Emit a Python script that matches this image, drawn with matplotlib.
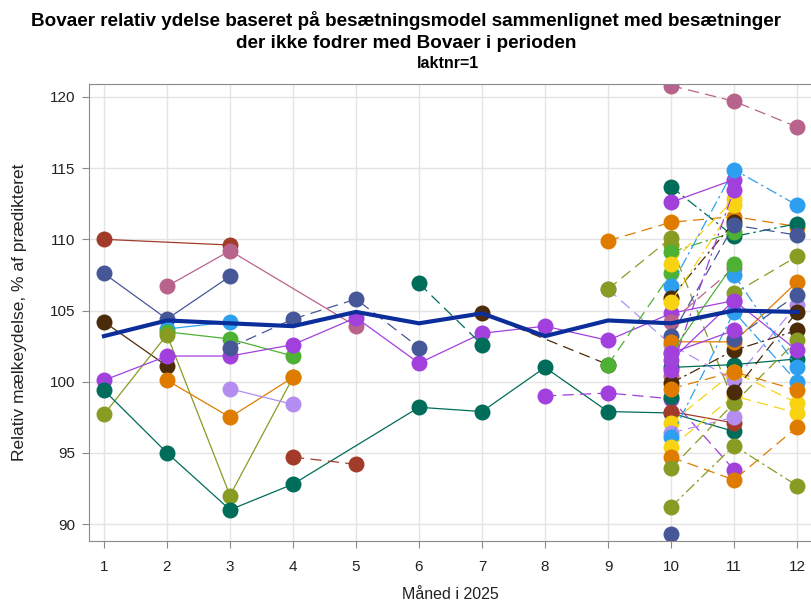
import numpy as np
import matplotlib
matplotlib.use("Agg")
from matplotlib import pyplot as plt

n = np.nan

# --------- DATA ---------
months = list(range(1, 13))
mean_rel = [103.2, 104.3, 104.1, 103.9, 104.9, 104.1, 104.8, 103.2, 104.3, 104.1, 105.0, 104.9]

# herds with values over the whole year (month 1..12)
year_herds = [
    [110.0, n, 109.6, n, n, n, n, n, n, n, n, n],
    [107.6, 104.4, 107.4, n, n, n, n, n, n, n, n, n],
    [n, 106.7, 109.2, n, 103.9, n, n, n, n, n, n, n],
    [104.2, 101.1, n, n, n, n, n, n, n, n, n, n],
    [n, 103.7, 104.2, n, n, n, n, n, n, n, n, n],
    [n, 103.5, 103.0, 101.8, n, n, n, n, n, n, n, n],
    [97.7, 103.3, 92.0, 100.3, n, n, n, n, n, n, n, n],
    [100.1, 101.8, 101.8, 102.6, 104.5, 101.3, 103.4, 103.9, 102.9, 104.8, 105.7, n],
    [n, 100.1, 97.5, 100.3, n, n, n, n, n, n, n, n],
    [99.4, 95.0, 91.0, 92.8, n, 98.2, 97.9, 101.0, 97.9, 97.8, 96.5, n],
    [n, n, 99.5, 98.4, n, n, n, n, n, n, n, n],
    [n, n, 102.4, 104.4, 105.8, 102.4, n, n, n, n, n, n],
    [n, n, n, 94.7, 94.2, n, n, n, n, n, n, n],
    [n, n, n, n, n, 106.9, 102.6, n, n, n, n, n],
    [n, n, n, n, n, n, 104.8, n, 101.2, n, n, n],
    [n, n, n, n, n, n, n, 99.0, 99.2, 98.8, 93.8, n],
    [n, n, n, n, n, n, n, n, 109.9, 111.2, 111.6, 110.9],
    [n, n, n, n, n, n, n, n, 106.5, 102.6, 100.1, 105.4],
    [n, n, n, n, n, n, n, n, 106.5, 110.1, n, n],
    [n, n, n, n, n, n, n, n, 101.2, 107.6, n, n],
    [n, n, n, n, n, n, n, n, n, 120.8, 119.7, 117.9],
]
year_colors = ["red", "slate", "mauve", "brown", "lblue", "green", "olive", "purple",
               "orange", "teal", "lav", "slate", "red", "teal", "brown", "purple",
               "orange", "lav", "olive", "green", "mauve"]
year_dash = ["-", "-", "-", "-", "-", "-", "-", "-", "-", "-", "-", "--", "--", "--",
             "--", "--", "--", "--", "--", "--", "--"]

# herds that only started in the autumn (months 10..12)
autumn_months = [10, 11, 12]
autumn_herds = [
    [113.7, 110.2, 111.1],
    [112.6, 114.2, n],
    [109.6, 98.5, n],
    [109.1, 110.5, n],
    [108.3, 112.8, n],
    [106.7, 114.9, 112.4],
    [105.9, 111.2, n],
    [105.6, 112.4, n],
    [104.2, 108.0, n],
    [103.2, 111.0, 110.3],
    [101.0, 101.2, 101.6],
    [100.4, n, n],
    [99.9, 102.2, 103.6],
    [98.9, n, n],
    [97.9, 97.1, n],
    [97.1, 100.7, 98.5],
    [96.4, 97.5, n],
    [96.1, 104.9, 100.0],
    [95.4, 99.0, 97.8],
    [94.7, 93.1, 96.8],
    [93.9, 98.5, 102.9],
    [91.2, 95.5, 92.7],
    [89.3, n, n],
    [102.8, 102.8, 107.0],
    [n, 106.2, 108.8],
    [101.5, 105.7, 102.2],
    [n, 107.5, 101.0],
    [99.5, 100.7, 99.4],
    [n, 103.0, 106.1],
    [102.0, 108.3, n],
    [100.8, 113.5, n],
    [102.0, 103.6, n],
    [n, 99.3, 104.9],
]
autumn_colors = ["teal", "purple", "olive", "green", "yellow", "lblue", "brown", "yellow",
                 "mauve", "slate", "teal", "mauve", "brown", "teal", "red", "yellow",
                 "lav", "lblue", "yellow", "orange", "olive", "olive", "slate", "orange",
                 "olive", "purple", "lblue", "orange", "slate", "green", "purple", "purple",
                 "brown"]
autumn_dash = ["-.", "-", "--", "-.", "--", "-.", "-.", "-.", "--", "--", "-", "--", "-.",
               "--", "-", "--", "--", "-.", "--", "--", "--", "-.", "-", "-", "--", "-",
               "-.", "--", "--", "-", "-.", "-", "--"]

# --------- STYLE ---------
palette = {
    "red": "#A33B2B", "slate": "#465798", "mauve": "#B8638B", "yellow": "#F7D312",
    "brown": "#4B2B0A", "lblue": "#2E9FEE", "green": "#4DB233", "olive": "#889B22",
    "purple": "#A140DD", "orange": "#DF7C00", "teal": "#006C5A", "lav": "#B38DF0",
}
dashes = {"-": "-", "--": (0, (9, 5)), "-.": (0, (9, 3, 2, 3))}

plt.rcParams['font.family'] = ['Liberation Sans', 'DejaVu Sans']

fig = plt.figure(figsize=(8.12, 6.02), dpi=100)
ax = fig.add_axes([89 / 812, 1 - 541 / 602, 1 - 89 / 812, (541 - 84) / 602])


def draw(x, y, color, ls):
    x = np.array(x, dtype=float)
    y = np.array(y, dtype=float)
    m = ~np.isnan(y)
    ax.plot(x[m], y[m], color=palette[color], linestyle=dashes[ls], linewidth=0.9,
            marker='o', markersize=11.5, markeredgewidth=0, zorder=2)


for vals, c, ls in zip(year_herds, year_colors, year_dash):
    draw(months, vals, c, ls)
for vals, c, ls in zip(autumn_herds, autumn_colors, autumn_dash):
    draw(autumn_months, vals, c, ls)

ax.plot(months, mean_rel, color="#0B2E9A", linewidth=3, zorder=3, solid_joinstyle='round')

ax.set_xlim(0.762, 12.238)
ax.set_ylim(88.806, 120.913)
ax.set_xticks(months)
ax.set_yticks([90, 95, 100, 105, 110, 115, 120])
ax.grid(True, color="#E4E4E4", linewidth=1)
ax.set_axisbelow(True)
for s in ax.spines.values():
    s.set_color("#8A8A8A")
ax.tick_params(colors="#8A8A8A", labelcolor="#222222", labelsize=11, length=5)
ax.tick_params(axis='x', pad=9)
ax.tick_params(axis='y', pad=5)

ax.set_xlabel("Måned i 2025", fontsize=11.5, color="#222222", labelpad=9)
ax.set_ylabel("Relativ mælkeydelse, % af prædikteret", fontsize=12.5, color="#222222", labelpad=16)

fig.text(0.5, 1 - 21 / 602, "Bovaer relativ ydelse baseret på besætningsmodel sammenlignet med besætninger",
         ha='center', va='center', fontsize=13.6, fontweight='bold')
fig.text(0.5, 1 - 43 / 602, "der ikke fodrer med Bovaer i perioden",
         ha='center', va='center', fontsize=13.6, fontweight='bold')
fig.text(448 / 812, 1 - 64 / 602, "laktnr=1", ha='center', va='center', fontsize=11.5,
         fontweight='bold')

fig.savefig("out.png", dpi=100)
